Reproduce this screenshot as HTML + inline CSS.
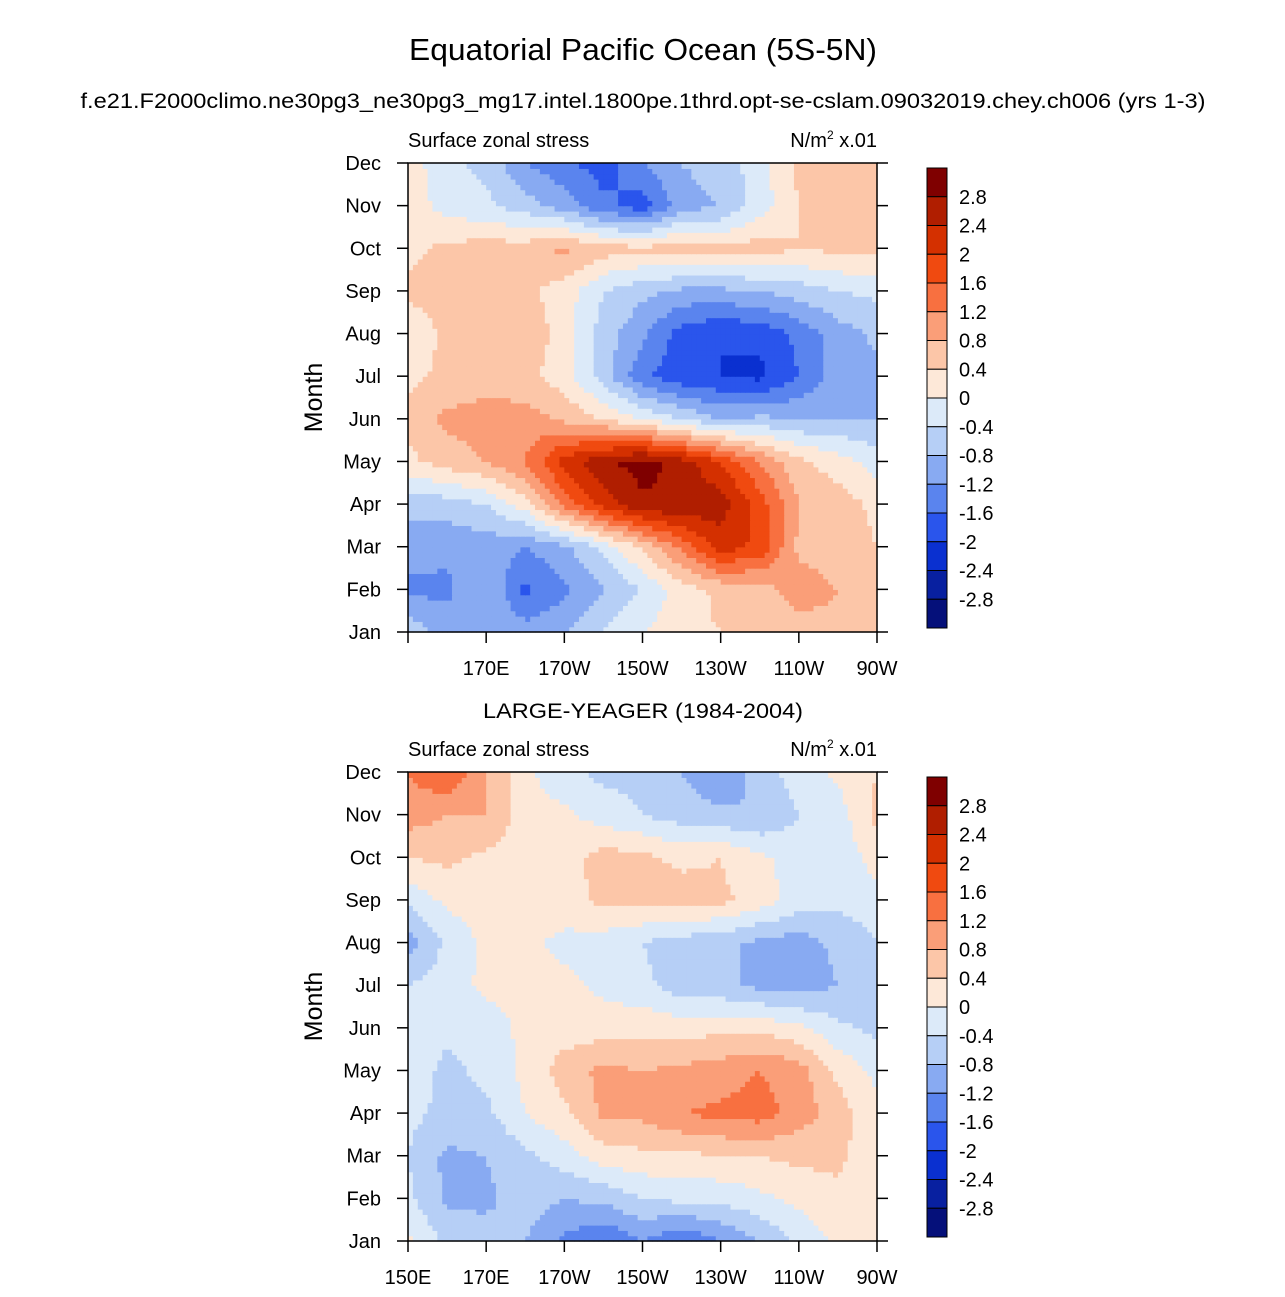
<!DOCTYPE html>
<html><head><meta charset="utf-8"><style>
body{margin:0;background:#fff;}
svg{font-family:"Liberation Sans",Arial,sans-serif;}
</style></head><body>
<svg id="chart" width="1285" height="1292" viewBox="0 0 1285 1292" xmlns="http://www.w3.org/2000/svg">
<text x="643" y="60" font-size="31" text-anchor="middle" textLength="468" lengthAdjust="spacingAndGlyphs">Equatorial Pacific Ocean (5S-5N)</text>
<text x="643" y="108" font-size="21" text-anchor="middle" textLength="1125" lengthAdjust="spacingAndGlyphs">f.e21.F2000climo.ne30pg3_ne30pg3_mg17.intel.1800pe.1thrd.opt-se-cslam.09032019.chey.ch006 (yrs 1-3)</text>
<text x="643" y="718" font-size="21" text-anchor="middle" textLength="320" lengthAdjust="spacingAndGlyphs">LARGE-YEAGER (1984-2004)</text>
<g id="p1"></g>
<g id="p2"></g>
</svg>
<script>
const months = ["Jan","Feb","Mar","Apr","May","Jun","Jul","Aug","Sep","Oct","Nov","Dec"];
const lonTicks = ["150E","170E","170W","150W","130W","110W","90W"];
const levels = ["-2.8","-2.4","-2","-1.6","-1.2","-0.8","-0.4","0","0.4","0.8","1.2","1.6","2","2.4","2.8"];
const colors = ["#05107a","#0820a0","#0a30d0","#2a55ec","#5a84ee","#88aaf2","#b6cff6","#dceaf9","#fde8d8","#fcc6a8","#fa9e78","#f87040","#f04a10","#d43000","#b01e00","#7f0000"];
// rows Jan..Dec, columns 150E..90W every 10 deg
const modelStress = [
[-0.5,-1,-0.8,-1,-0.8,-0.4,0,0.3,0.4,0.5,0.6,0.7,0.5],
[-1.3,-1.3,-0.8,-1.7,-1.3,-0.8,-0.4,0.2,0.5,0.6,1.0,0.8,0.5],
[-1,-1.1,-1.0,-1.2,-0.9,-0.3,0.5,1.3,2.2,1.9,0.7,0.6,0.4],
[-0.7,-0.6,-0.4,0.2,1.3,2.2,2.7,2.8,2.6,1.8,0.8,0.6,0.3],
[0.3,0.6,0.8,1.2,2.2,2.7,3.0,2.6,2.0,1.2,0.5,0.2,-0.2],
[0.5,0.9,1.0,1.0,0.7,0.4,0,-0.4,-0.8,-0.7,-0.8,-0.8,-0.8],
[0.3,0.5,0.6,0.5,0.2,-0.6,-1.5,-1.9,-2.0,-2.1,-1.6,-1.0,-0.9],
[0.1,0.5,0.5,0.7,0.2,-0.6,-1.1,-1.8,-2.0,-1.9,-1.5,-1.0,-0.7],
[0.5,0.6,0.6,0.5,0.2,-0.4,-0.7,-0.9,-0.9,-0.8,-0.6,-0.4,-0.3],
[0.3,0.5,0.6,0.6,0.9,0.6,0.5,0.6,0.5,0.6,0.4,0.5,0.5],
[0.3,-0.2,-0.3,-0.6,-1.0,-1.5,-1.8,-1.0,-0.8,-0.2,0.4,0.5,0.5],
[0.2,-0.3,-0.5,-1.2,-1.5,-1.8,-1.2,-0.8,-0.6,-0.2,0.5,0.6,0.6]];
const obsStress = [
[0.1,-0.5,-0.6,-0.8,-1.3,-1.6,-1.2,-1.6,-1.2,-0.8,-0.3,0.1,0.2],
[-0.3,-0.9,-0.9,-0.6,-0.8,-0.7,-0.4,-0.3,-0.3,-0.1,0.1,0.3,0.2],
[-0.4,-0.9,-0.8,-0.5,-0.2,0.2,0.3,0.3,0.4,0.4,0.5,0.5,0.1],
[-0.3,-0.5,-0.5,0,0.3,0.9,0.9,1.2,1.3,1.4,1.0,0.6,0.1],
[-0.2,-0.5,-0.3,0.1,0.6,0.9,0.8,0.9,1.0,1.2,1.0,0.3,-0.1],
[-0.3,-0.3,-0.2,0.1,0.2,0.2,0.3,0.2,0.3,0.3,0.1,-0.3,-0.5],
[-0.4,-0.2,0.1,0.1,0.1,-0.1,-0.3,-0.6,-0.7,-0.9,-1.0,-0.8,-0.6],
[-1.0,-0.3,0.1,0.1,-0.1,-0.2,-0.4,-0.6,-0.7,-0.9,-1.0,-0.7,-0.4],
[-0.3,0.1,0.2,0.1,0.2,0.5,0.5,0.6,0.5,0.2,-0.2,-0.3,-0.2],
[0.4,0.5,0.3,0.2,0.2,0.6,0.5,0.3,0.4,0.1,-0.2,-0.3,0.2],
[1.0,0.8,0.8,0.2,0.1,-0.2,-0.4,-0.6,-0.7,-0.8,-0.4,-0.2,0.5],
[1.2,1.6,0.8,0.1,-0.3,-0.5,-0.5,-0.8,-1.2,-0.6,-0.2,0.1,0.4]];

const NS="http://www.w3.org/2000/svg";
function mk(tag,attrs,parent){const e=document.createElementNS(NS,tag);for(const k in attrs)e.setAttribute(k,attrs[k]);parent.appendChild(e);return e;}
function colorOf(v){let i=Math.floor(v/0.4)+8;if(i<0)i=0;if(i>15)i=15;return colors[i];}
function drawPanel(g,data,top,showFirstLon){
  const L=408,R=877,T=top,B=top+469;
  const nx=data[0].length, ny=data.length;
  const xs=c=>L+(R-L)*c/(nx-1), ys=r=>B-(B-T)*r/(ny-1);
  const sub=8;
  const field=mk('g',{},g);
  
  
  const NX=(nx-1)*sub, NY=(ny-1)*sub;
  for(let j=0;j<NY;j++){for(let i=0;i<NX;i++){
    const fx=(i+0.5)/sub, fy=(j+0.5)/sub;
    const c0=Math.floor(fx), r0=Math.floor(fy), tx=fx-c0, ty=fy-r0;
    const v=data[r0][c0]*(1-tx)*(1-ty)+data[r0][c0+1]*tx*(1-ty)+data[r0+1][c0]*(1-tx)*ty+data[r0+1][c0+1]*tx*ty;
    const x0=xs(i/sub), x1=xs((i+1)/sub), y0=ys((j+1)/sub), y1=ys(j/sub);
    const rc=mk('rect',{x:x0.toFixed(2),y:y0.toFixed(2),width:(x1-x0+0.6).toFixed(2),height:(y1-y0+0.6).toFixed(2),fill:colorOf(v)},field);
    
    
  }}
  const fr=mk('rect',{x:L,y:T,width:R-L,height:B-T,fill:'none',stroke:'#000','stroke-width':1.5},g);
  
  
  months.forEach((m,k)=>{const y=ys(k);
    mk('line',{x1:L-11,y1:y,x2:L,y2:y,stroke:'#000','stroke-width':1.5},g);
    mk('line',{x1:R,y1:y,x2:R+11,y2:y,stroke:'#000','stroke-width':1.5},g);
    const t=mk('text',{x:381,y:y+7,'font-size':20,'text-anchor':'end'},g);t.textContent=m;
    
    });
  lonTicks.forEach((lab,k)=>{const x=L+(R-L)*k/(lonTicks.length-1);
    mk('line',{x1:x,y1:B,x2:x,y2:B+11,stroke:'#000','stroke-width':1.5},g);
    if(k===0&&!showFirstLon)return;
    const t=mk('text',{x:x,y:B+43,'font-size':20,'text-anchor':'middle'},g);t.textContent=lab;
    
    });
  const lt=mk('text',{x:408,y:T-16,'font-size':20},g);lt.textContent='Surface zonal stress';
  
  
  const ut=mk('text',{x:877,y:T-16,'font-size':20,'text-anchor':'end'},g);
  ut.innerHTML='N/m<tspan dy="-8" font-size="12">2</tspan><tspan dy="8"> x.01</tspan>';
  
  
  const yt=mk('text',{transform:`translate(322,${(T+B)/2}) rotate(-90)`,'font-size':25,'text-anchor':'middle'},g);yt.textContent='Month';
  
  
  const cb=mk('g',{},g);
  
  
  const cT=T+5, cH=460, bh=cH/16;
  for(let k=0;k<16;k++){const r=mk('rect',{x:927,y:cT+k*bh,width:20,height:bh,fill:colors[15-k],stroke:'#000','stroke-width':1},cb);
    
    }
  for(let k=0;k<15;k++){const t=mk('text',{x:959,y:cT+(k+1)*bh+7,'font-size':20},cb);t.textContent=levels[14-k];
    
    }
}
drawPanel(document.getElementById('p1'),modelStress,163,false);
drawPanel(document.getElementById('p2'),obsStress,772,true);
</script>
</body></html>
